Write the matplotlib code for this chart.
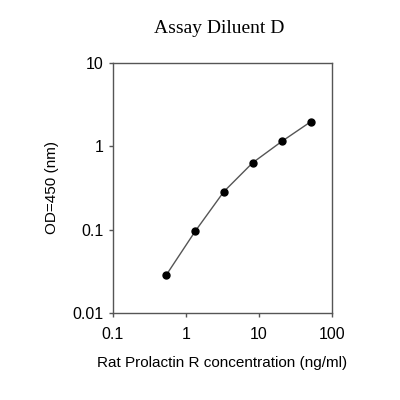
import matplotlib
matplotlib.use('Agg')
import matplotlib.pyplot as plt
from matplotlib.ticker import FixedLocator, FixedFormatter, NullLocator

concentration = [0.54, 1.34, 3.3, 8.2, 20.5, 51]
od450 = [0.0288, 0.096, 0.286, 0.636, 1.145, 1.97]
x_ticks = [0.1, 1, 10, 100]
x_tick_labels = ['0.1', '1', '10', '100']
y_ticks = [0.01, 0.1, 1, 10]
y_tick_labels = ['0.01', '0.1', '1', '10']

fig = plt.figure(figsize=(4, 4), dpi=100)
ax = fig.add_axes([0.2825, 0.2175, 0.5475, 0.625])
ax.plot(concentration, od450, color='#555555', linewidth=1, marker='o',
        markersize=5, markerfacecolor='black', markeredgecolor='black')
ax.set_xscale('log')
ax.set_yscale('log')
ax.set_xlim(0.1, 100)
ax.set_ylim(0.01, 10)
ax.xaxis.set_major_locator(FixedLocator(x_ticks))
ax.xaxis.set_major_formatter(FixedFormatter(x_tick_labels))
ax.yaxis.set_major_locator(FixedLocator(y_ticks))
ax.yaxis.set_major_formatter(FixedFormatter(y_tick_labels))
ax.xaxis.set_minor_locator(NullLocator())
ax.yaxis.set_minor_locator(NullLocator())
ax.tick_params(direction='out', length=3, width=1, colors='#555555',
               labelcolor='black', labelsize=11.5)
ax.tick_params(axis='x', pad=7)
for s in ax.spines.values():
    s.set_color('#555555')
    s.set_linewidth(1)

ax.set_xlabel('Rat Prolactin R concentration (ng/ml)', family='Liberation Sans',
              fontsize=11, labelpad=10)
ax.set_ylabel('OD=450 (nm)', family='Liberation Sans', fontsize=11, labelpad=10)
for lab in ax.get_xticklabels() + ax.get_yticklabels():
    lab.set_family('Liberation Sans')
fig.text(0.548, 0.928, 'Assay Diluent D', family='Liberation Serif', fontsize=14,
         ha='center', va='center')

plt.savefig('out.png', dpi=100)
